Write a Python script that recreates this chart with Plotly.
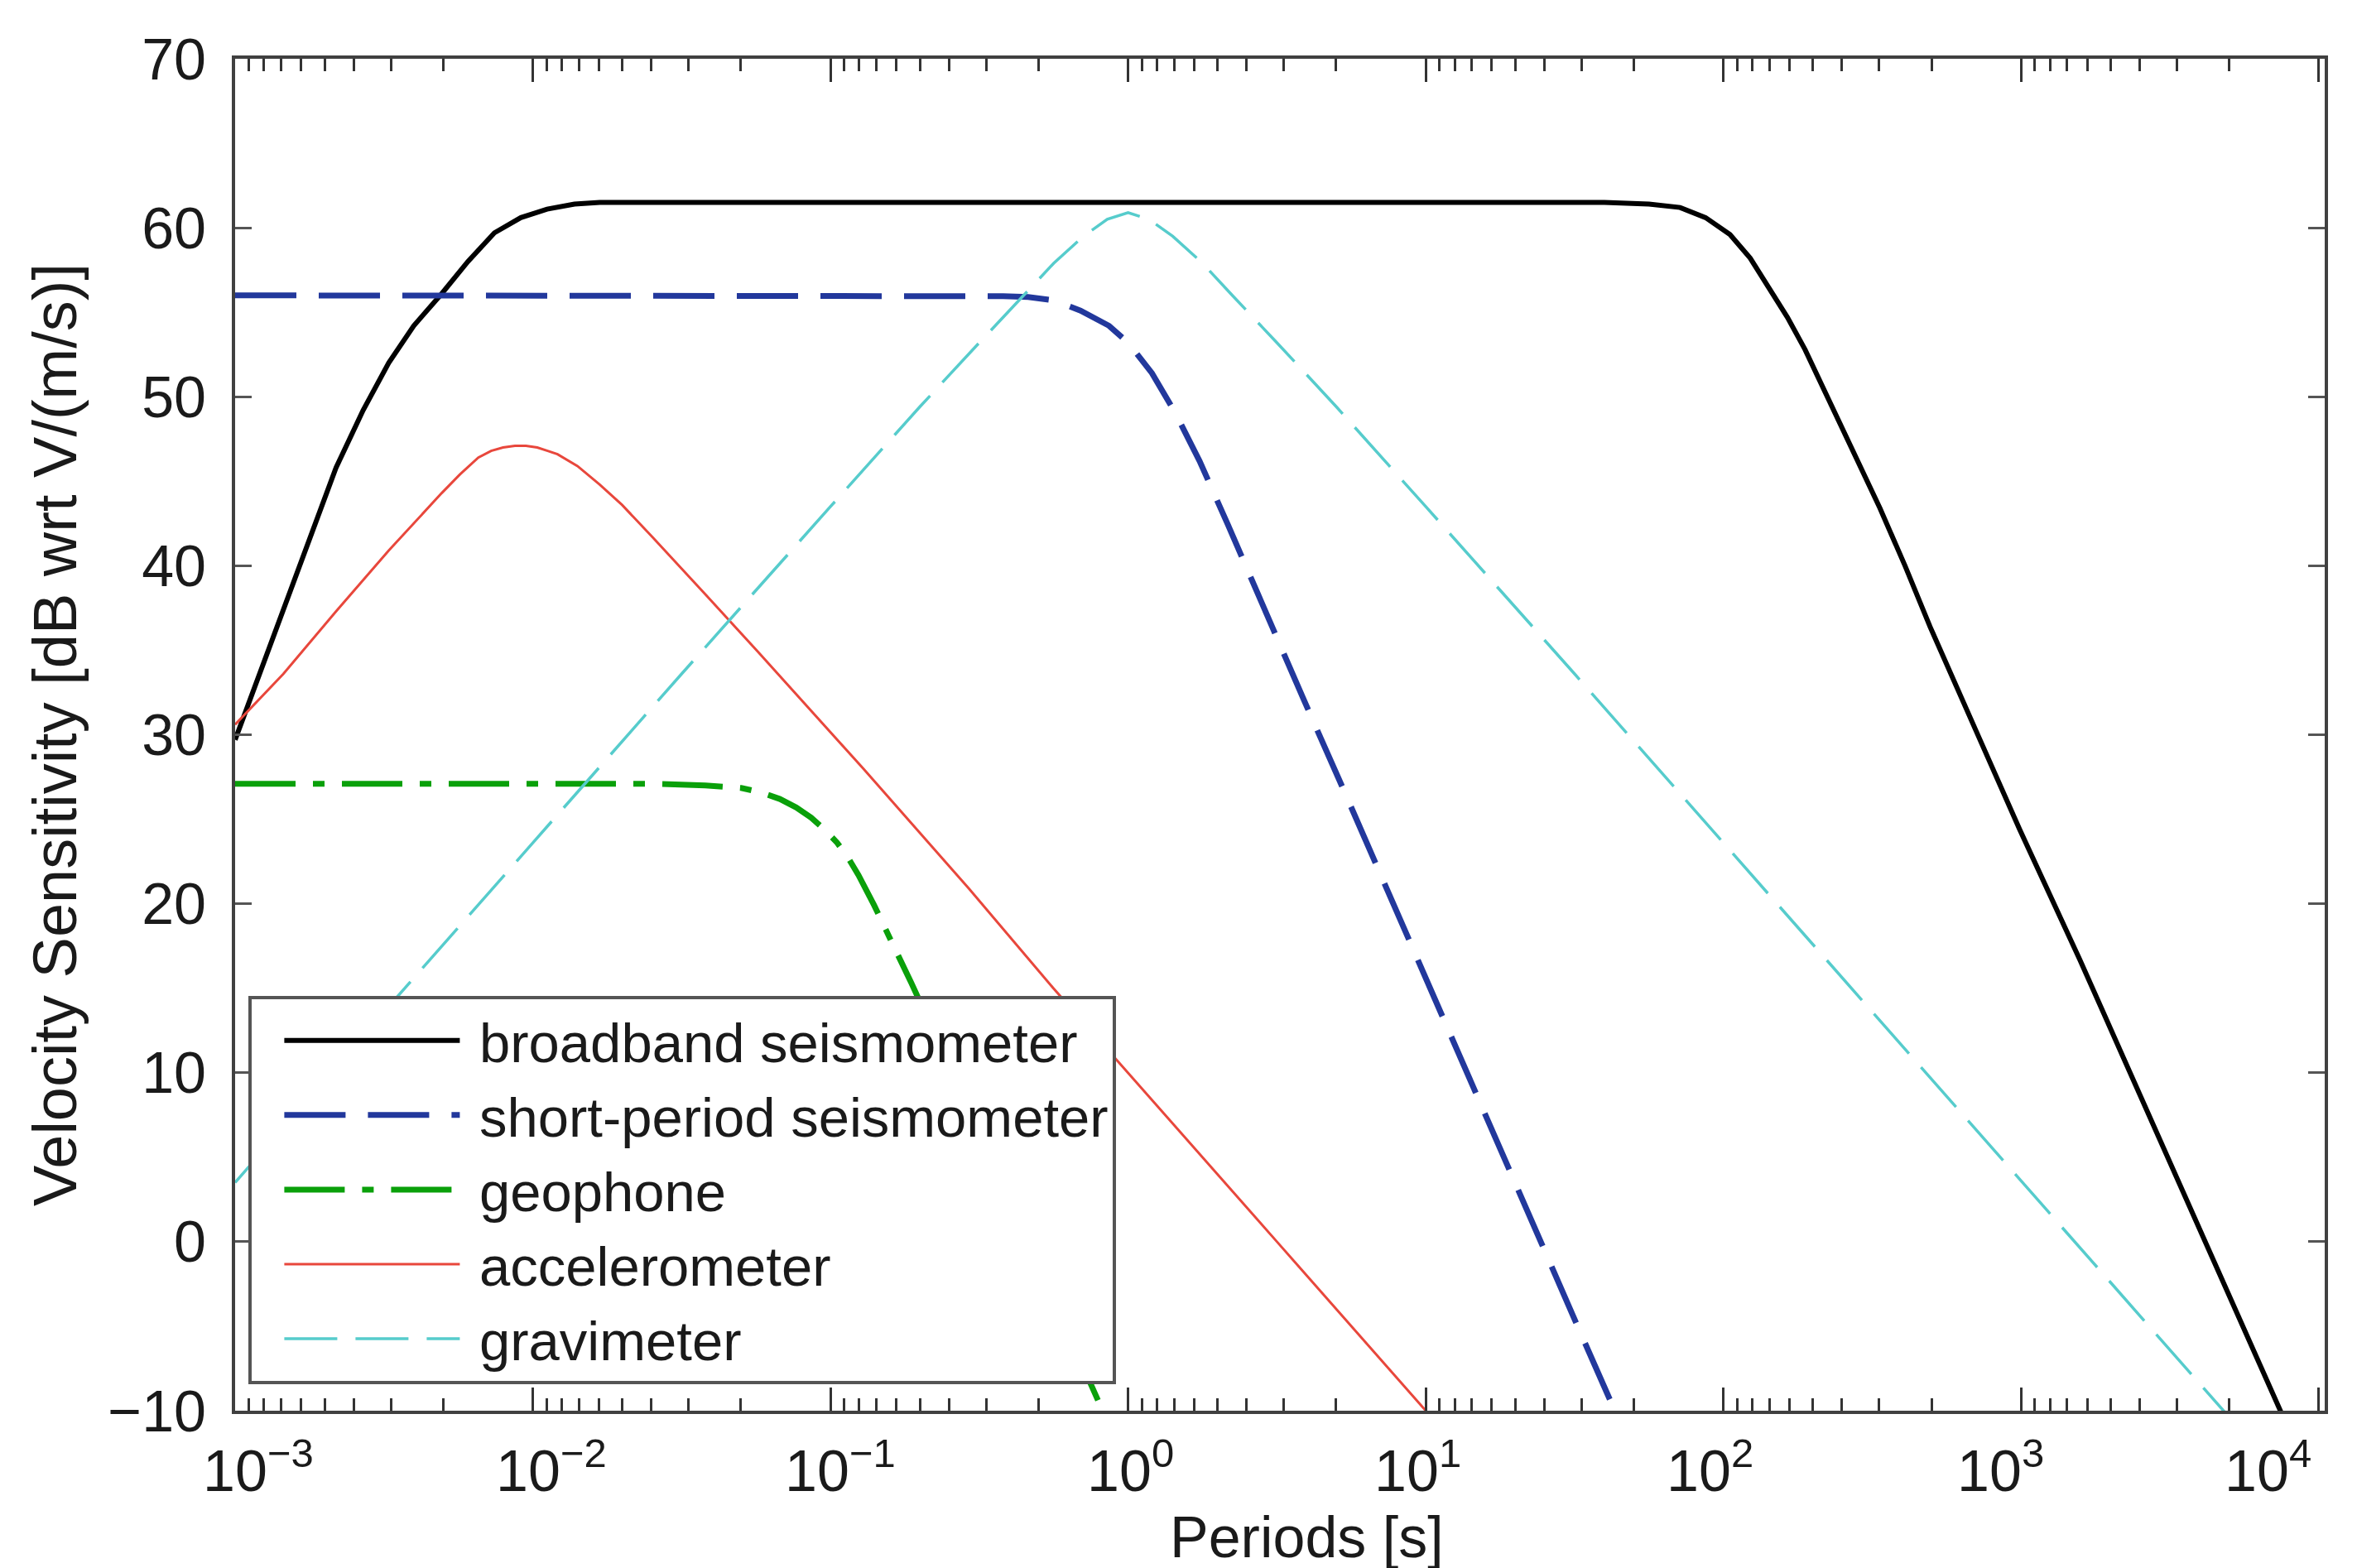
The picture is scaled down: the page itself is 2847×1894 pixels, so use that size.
import plotly.graph_objects as go

# ---------------- data ----------------
# periods are stored as log10(period [s]); values in dB wrt V/(m/s)
broadband_logT = [-3, -2.92, -2.838, -2.75, -2.661, -2.57, -2.484, -2.40, -2.306, -2.218,
                  -2.129, -2.04, -1.952, -1.86, -1.775, -1, 0, 1, 1.6, 1.75, 1.854, 1.94,
                  2.022, 2.09, 2.156, 2.215, 2.274, 2.333, 2.392, 2.46, 2.526, 2.61, 2.694,
                  2.862, 2.995, 3.197, 3.366, 3.534, 3.703, 3.871, 4.03]
broadband_dB = [29.7, 33.5, 37.3, 41.5, 45.8, 49.2, 52.0, 54.2, 56.1, 58.0,
                59.7, 60.6, 61.1, 61.4, 61.5, 61.5, 61.5, 61.5, 61.5, 61.4, 61.2, 60.6,
                59.6, 58.2, 56.4, 54.7, 52.8, 50.6, 48.3, 45.9, 43.4, 40.0, 36.4,
                29.7, 24.4, 16.7, 10.0, 3.4, -3.3, -10.0, -16.3]

short_logT = [-3, -1, -0.52, -0.42, -0.336, -0.248, -0.16, -0.064, 0, 0.08, 0.16, 0.24,
              0.336, 0.464, 0.592, 0.72, 0.88, 1.04, 1.2, 1.36, 1.52, 1.63, 1.75]
short_dB = [56.0, 56.0, 56.0, 55.95, 55.9, 55.7, 55.1, 54.2, 53.2, 51.4, 49.0, 46.2,
            42.4, 37.1, 32.0, 26.9, 20.4, 13.9, 7.4, 1.0, -5.4, -9.8, -14.6]

geophone_logT = [-3, -1.6, -1.42, -1.3, -1.236, -1.17, -1.115, -1.065, -1.02, -0.977,
                 -0.94, -0.906, -0.853, -0.782, -0.728, -0.6, -0.4, -0.2, -0.09, 0]
geophone_dB = [27.1, 27.1, 27.0, 26.85, 26.6, 26.2, 25.7, 25.1, 24.4, 23.6,
               22.7, 21.7, 19.9, 17.3, 15.3, 10.4, 2.5, -5.4, -9.8, -13.4]

accel_logT = [-3, -2.838, -2.661, -2.484, -2.306, -2.245, -2.183, -2.14, -2.1, -2.06,
              -2.023, -1.985, -1.95, -1.917, -1.85, -1.775, -1.7, -1.598, -1.42, -1.243,
              -0.89, -0.535, -0.251, 0, 0.5, 1.0, 1.2]
accel_dB = [30.6, 33.6, 37.3, 40.9, 44.3, 45.4, 46.4, 46.8, 47.0, 47.1,
            47.1, 47.0, 46.8, 46.6, 45.9, 44.8, 43.6, 41.7, 38.3, 34.9,
            28.0, 20.9, 15.0, 10.0, 0.0, -10.0, -14.0]

grav_logT = [-3, -2.5, -2, -1.5, -1, -0.7, -0.5, -0.35, -0.25, -0.15, -0.07, 0,
             0.07, 0.15, 0.25, 0.35, 0.5, 0.7, 1, 1.5, 2, 2.5, 3, 3.5, 3.7, 4.03]
grav_dB = [3.5, 13.6, 23.6, 33.6, 43.5, 49.4, 53.2, 56.0, 57.9, 59.5, 60.5, 60.9,
           60.5, 59.5, 57.9, 56.0, 53.2, 49.4, 43.5, 33.6, 23.6, 13.6, 3.6, -6.4, -10.4, -17.0]

names = ["broadband seismometer", "short-period seismometer", "geophone",
         "accelerometer", "gravimeter"]

x_tick_exps = [-3, -2, -1, 0, 1, 2, 3, 4]
x_tick_text = ["10<sup>\u22123</sup>", "10<sup>\u22122</sup>", "10<sup>\u22121</sup>",
               "10<sup>0</sup>", "10<sup>1</sup>", "10<sup>2</sup>", "10<sup>3</sup>",
               "10<sup>4</sup>"]
x_label_shift = [28, 22, 12, 3, -10, -16, -25, -61]
y_tick_vals = [-10, 0, 10, 20, 30, 40, 50, 60, 70]
y_tick_text = ["\u221210", "0", "10", "20", "30", "40", "50", "60", "70"]

# ---------------- styles ----------------
styles = [
    dict(color="#000000", width=6, dash="solid"),
    dict(color="#22389c", width=7, dash="74px,27px"),
    dict(color="#0aa00a", width=7, dash="73px,21px,14px,21px"),
    dict(color="#e8473c", width=3, dash="solid"),
    dict(color="#56cccc", width=3.5, dash="64px,22px"),
]
series = [(broadband_logT, broadband_dB), (short_logT, short_dB),
          (geophone_logT, geophone_dB), (accel_logT, accel_dB), (grav_logT, grav_dB)]

FONT = "Liberation Sans, Arial, Helvetica, sans-serif"
AX = "#404040"

fig = go.Figure()
for (logT, dB), name, st in zip(series, names, styles):
    periods = [10 ** v for v in logT]
    fig.add_trace(go.Scatter(
        x=periods, y=dB, mode="lines", name="\u00a0" + name,
        line=dict(color=st["color"], width=st["width"], dash=st["dash"]),
    ))

minor_vals = [10 ** (n + 1) / k for n in range(-3, 4) for k in range(2, 10)]

fig.update_layout(
    width=2847, height=1894,
    margin=dict(l=276, r=47, t=63, b=198),
    paper_bgcolor="white", plot_bgcolor="white",
    font=dict(family=FONT, size=70, color="#1a1a1a"),
    showlegend=True,
    legend=dict(
        x=0.0065, y=0.307, xanchor="left", yanchor="top",
        bgcolor="white", bordercolor="#555555", borderwidth=4,
        font=dict(family=FONT, size=67, color="#1a1a1a"),
        itemwidth=212, indentation=34,
    ),
    xaxis=dict(
        type="log", range=[-3, 4.02],
        showline=True, linecolor=AX, linewidth=4, mirror="allticks",
        ticks="inside", ticklen=28, tickwidth=3, tickcolor="#333333",
        tickmode="array", tickvals=[10 ** e for e in x_tick_exps],
        showticklabels=False, showgrid=False, zeroline=False,
        minor=dict(tickmode="array", tickvals=minor_vals, ticks="inside",
                   ticklen=15, tickwidth=3, tickcolor="#333333", showgrid=False),
    ),
    yaxis=dict(
        range=[-10, 70],
        showline=True, linecolor=AX, linewidth=4, mirror="allticks",
        ticks="inside", ticklen=20, tickwidth=3, tickcolor="#555555",
        tickmode="array", tickvals=y_tick_vals, ticktext=y_tick_text,
        tickfont=dict(family=FONT, size=70, color="#1a1a1a"),
        ticklabelstandoff=17,
        showgrid=False, zeroline=False,
        title=dict(text="Velocity Sensitivity [dB wrt V/(m/s)]",
                   font=dict(family=FONT, size=74, color="#1a1a1a"), standoff=14),
    ),
)

annotations = []
for e, txt, sh in zip(x_tick_exps, x_tick_text, x_label_shift):
    annotations.append(dict(
        x=e, xref="x", y=0, yref="paper", yanchor="top", xanchor="center",
        text=txt, showarrow=False, xshift=sh, yshift=-22,
        font=dict(family=FONT, size=70, color="#1a1a1a"),
    ))
annotations.append(dict(
    x=0.5128, xref="paper", y=0, yref="paper", yanchor="top", xanchor="center",
    text="Periods [s]", showarrow=False, yshift=-112,
    font=dict(family=FONT, size=70, color="#1a1a1a"),
))
fig.update_layout(annotations=annotations)

fig.write_html("out.html")
